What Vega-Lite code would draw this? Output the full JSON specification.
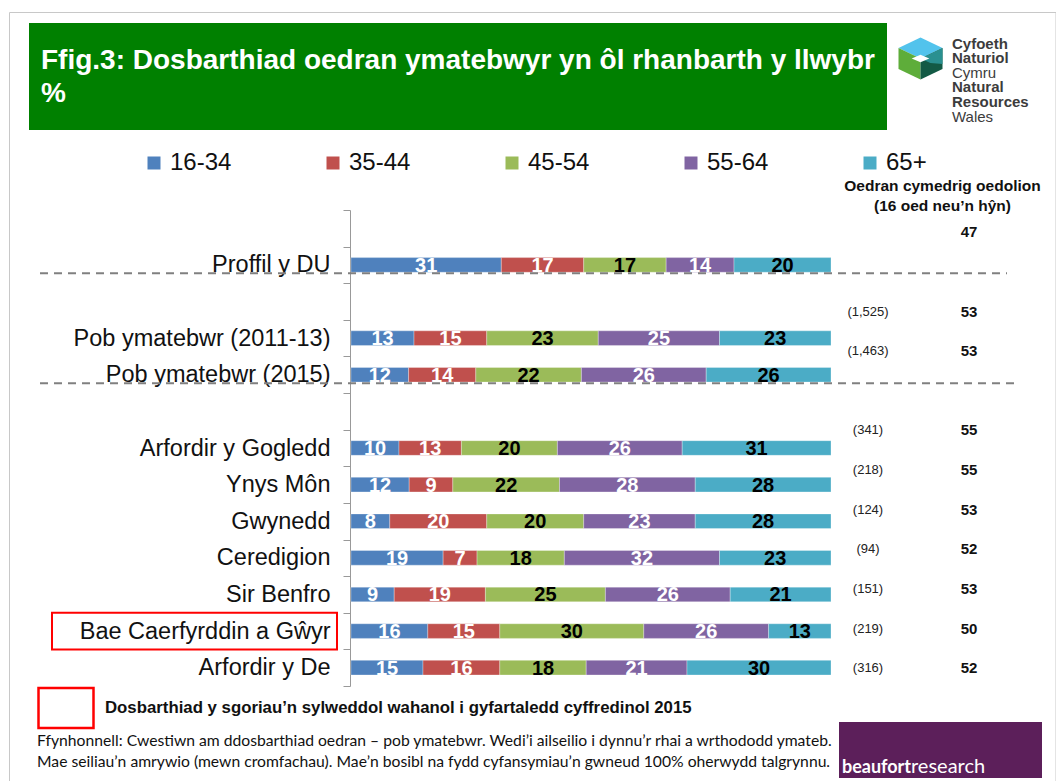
{
  "$schema": "https://vega.github.io/schema/vega-lite/v6.json",
  "width": 1056,
  "height": 781,
  "autosize": {"type": "none"},
  "padding": 0,
  "background": "white",
  "config": {"view": {"stroke": null}, "font": "Liberation Sans"},
  "title": {
    "text": ["Ffig.3: Dosbarthiad oedran ymatebwyr yn ôl rhanbarth y llwybr", "%"],
    "anchor": "start",
    "frame": "group",
    "orient": "top",
    "offset": -142,
    "dx": 41,
    "baseline": "alphabetic",
    "lineHeight": 33,
    "font": "Liberation Sans",
    "fontSize": 28,
    "fontWeight": "bold",
    "color": "#ffffff",
    "zindex": 1
  },
  "resolve": {"scale": {"y": "independent"}},
  "layer": [
    {
      "data": {"values": [{"k": "border"}]},
      "mark": {"type": "rect", "fill": "transparent", "stroke": "#c8c8c8", "strokeWidth": 1},
      "encoding": {
        "x": {"datum": -0.71146, "type": "quantitative"},
        "x2": {"datum": 1.46875},
        "y": {"field": "k", "type": "nominal", "scale": {"type": "band", "domain": ["border"], "range": [12.5, 800], "paddingInner": 0, "paddingOuter": 0}, "axis": null}
      }
    },
    {
      "data": {"values": [{"k": "banner"}]},
      "mark": {"type": "rect", "fill": "#008000"},
      "encoding": {
        "x": {"datum": -0.67083, "type": "quantitative"},
        "x2": {"datum": 1.11667},
        "y": {"field": "k", "type": "nominal", "scale": {"type": "band", "domain": ["banner"], "range": [23, 130], "paddingInner": 0, "paddingOuter": 0}, "axis": null}
      }
    },
    {
      "data": {"values": [{"p": "a", "k": "hex"}, {"p": "b", "k": "hex"}, {"p": "c", "k": "hex"}, {"p": "d", "k": "hex"}, {"p": "e", "k": "hex"}]},
      "mark": {"type": "point", "filled": true, "opacity": 1, "size": 1936, "strokeWidth": 0},
      "encoding": {
        "x": {"datum": 1.18646, "type": "quantitative"},
        "y": {"field": "k", "type": "nominal", "scale": {"type": "band", "domain": ["hex"], "range": [37, 80], "paddingInner": 0, "paddingOuter": 0}, "axis": null},
        "shape": {"field": "p", "type": "nominal", "legend": null, "scale": {"domain": ["a", "b", "c", "d", "e"], "range": [
          "M-1,-0.478L0,-0.955L1,-0.478L0,0Z",
          "M-1,-0.478L0,0L0,0.955L-1,0.478Z",
          "M1,-0.478L1,0.478L0,0.955L0,0Z",
          "M0,0L1,-0.478L1,0.25L0.45,0.2Z",
          "M-0.4,0L0,-0.17L0.4,0L0,0.17Z"
        ]}},
        "fill": {"field": "p", "type": "nominal", "legend": null, "scale": {"domain": ["a", "b", "c", "d", "e"], "range": ["#52c3ec", "#5ead3a", "#135a45", "#2a9090", "#ffffff"]}}
      }
    },
    {
      "data": {"values": [{"t": "Cyfoeth"}, {"t": "Naturiol"}, {"t": "Cymru"}, {"t": "Natural"}, {"t": "Resources"}, {"t": "Wales"}]},
      "layer": [
        {
          "transform": [{"filter": "indexof(['Cymru','Wales'], datum.t) < 0"}],
          "mark": {"type": "text", "align": "left", "baseline": "alphabetic", "fontSize": 15, "fontWeight": "bold", "font": "Liberation Sans", "color": "#3c3c3c"},
          "encoding": {
            "x": {"datum": 1.25208, "type": "quantitative"},
            "y": {"field": "t", "type": "nominal", "scale": {"type": "band", "domain": ["Cyfoeth", "Naturiol", "Cymru", "Natural", "Resources", "Wales"], "range": [41.5, 128.8], "paddingInner": 0, "paddingOuter": 0}, "axis": null},
            "text": {"field": "t"}
          }
        },
        {
          "transform": [{"filter": "indexof(['Cymru','Wales'], datum.t) >= 0"}],
          "mark": {"type": "text", "align": "left", "baseline": "alphabetic", "fontSize": 15, "font": "Liberation Sans", "color": "#3c3c3c"},
          "encoding": {
            "x": {"datum": 1.25208, "type": "quantitative"},
            "y": {"field": "t", "type": "nominal"},
            "text": {"field": "t"}
          }
        }
      ]
    },
    {
      "data": {"values": [{"k": "beaufort", "a": "beaufort", "r": "research"}]},
      "layer": [
        {
          "mark": {"type": "rect", "fill": "#5c1f5a"},
          "encoding": {
            "x": {"datum": 1.01667, "type": "quantitative"},
            "x2": {"datum": 1.43958},
            "y": {"field": "k", "type": "nominal", "scale": {"type": "band", "domain": ["beaufort"], "range": [722, 778], "paddingInner": 0, "paddingOuter": 0}, "axis": null}
          }
        },
        {
          "mark": {"type": "text", "align": "right", "baseline": "alphabetic", "dy": 23, "fontSize": 18, "fontWeight": "bold", "font": "Lato", "color": "#ffffff"},
          "encoding": {
            "x": {"datum": 1.16667, "type": "quantitative"},
            "y": {"field": "k", "type": "nominal"},
            "text": {"field": "a"}
          }
        },
        {
          "mark": {"type": "text", "align": "left", "baseline": "alphabetic", "dy": 23, "fontSize": 20, "font": "Lato", "color": "#ffffff"},
          "encoding": {
            "x": {"datum": 1.16667, "type": "quantitative"},
            "y": {"field": "k", "type": "nominal"},
            "text": {"field": "r"}
          }
        }
      ]
    },
    {
      "data": {"values": [
        {"k": "l1", "t": "Ffynhonnell: Cwestiwn am ddosbarthiad oedran – pob ymatebwr. Wedi’i ailseilio i dynnu’r rhai a wrthododd ymateb."},
        {"k": "l2", "t": "Mae seiliau’n amrywio (mewn cromfachau). Mae’n bosibl na fydd cyfansymiau’n gwneud 100% oherwydd talgrynnu."}
      ]},
      "mark": {"type": "text", "align": "left", "baseline": "middle", "fontSize": 15.7, "font": "Lato", "color": "#111111"},
      "encoding": {
        "x": {"datum": -0.65417, "type": "quantitative"},
        "y": {"field": "k", "type": "nominal", "scale": {"type": "band", "domain": ["l1", "l2"], "range": [730.5, 772.5], "paddingInner": 0, "paddingOuter": 0}, "axis": null},
        "text": {"field": "t"}
      }
    },
    {
      "data": {"values": [
        {"cat": "Proffil y DU", "age": "16-34", "v": 31}, {"cat": "Proffil y DU", "age": "35-44", "v": 17}, {"cat": "Proffil y DU", "age": "45-54", "v": 17}, {"cat": "Proffil y DU", "age": "55-64", "v": 14}, {"cat": "Proffil y DU", "age": "65+", "v": 20},
        {"cat": "Pob ymatebwr (2011-13)", "age": "16-34", "v": 13}, {"cat": "Pob ymatebwr (2011-13)", "age": "35-44", "v": 15}, {"cat": "Pob ymatebwr (2011-13)", "age": "45-54", "v": 23}, {"cat": "Pob ymatebwr (2011-13)", "age": "55-64", "v": 25}, {"cat": "Pob ymatebwr (2011-13)", "age": "65+", "v": 23},
        {"cat": "Pob ymatebwr (2015)", "age": "16-34", "v": 12}, {"cat": "Pob ymatebwr (2015)", "age": "35-44", "v": 14}, {"cat": "Pob ymatebwr (2015)", "age": "45-54", "v": 22}, {"cat": "Pob ymatebwr (2015)", "age": "55-64", "v": 26}, {"cat": "Pob ymatebwr (2015)", "age": "65+", "v": 26},
        {"cat": "Arfordir y Gogledd", "age": "16-34", "v": 10}, {"cat": "Arfordir y Gogledd", "age": "35-44", "v": 13}, {"cat": "Arfordir y Gogledd", "age": "45-54", "v": 20}, {"cat": "Arfordir y Gogledd", "age": "55-64", "v": 26}, {"cat": "Arfordir y Gogledd", "age": "65+", "v": 31},
        {"cat": "Ynys Môn", "age": "16-34", "v": 12}, {"cat": "Ynys Môn", "age": "35-44", "v": 9}, {"cat": "Ynys Môn", "age": "45-54", "v": 22}, {"cat": "Ynys Môn", "age": "55-64", "v": 28}, {"cat": "Ynys Môn", "age": "65+", "v": 28},
        {"cat": "Gwynedd", "age": "16-34", "v": 8}, {"cat": "Gwynedd", "age": "35-44", "v": 20}, {"cat": "Gwynedd", "age": "45-54", "v": 20}, {"cat": "Gwynedd", "age": "55-64", "v": 23}, {"cat": "Gwynedd", "age": "65+", "v": 28},
        {"cat": "Ceredigion", "age": "16-34", "v": 19}, {"cat": "Ceredigion", "age": "35-44", "v": 7}, {"cat": "Ceredigion", "age": "45-54", "v": 18}, {"cat": "Ceredigion", "age": "55-64", "v": 32}, {"cat": "Ceredigion", "age": "65+", "v": 23},
        {"cat": "Sir Benfro", "age": "16-34", "v": 9}, {"cat": "Sir Benfro", "age": "35-44", "v": 19}, {"cat": "Sir Benfro", "age": "45-54", "v": 25}, {"cat": "Sir Benfro", "age": "55-64", "v": 26}, {"cat": "Sir Benfro", "age": "65+", "v": 21},
        {"cat": "Bae Caerfyrddin a Gŵyr", "age": "16-34", "v": 16}, {"cat": "Bae Caerfyrddin a Gŵyr", "age": "35-44", "v": 15}, {"cat": "Bae Caerfyrddin a Gŵyr", "age": "45-54", "v": 30}, {"cat": "Bae Caerfyrddin a Gŵyr", "age": "55-64", "v": 26}, {"cat": "Bae Caerfyrddin a Gŵyr", "age": "65+", "v": 13},
        {"cat": "Arfordir y De", "age": "16-34", "v": 15}, {"cat": "Arfordir y De", "age": "35-44", "v": 16}, {"cat": "Arfordir y De", "age": "45-54", "v": 18}, {"cat": "Arfordir y De", "age": "55-64", "v": 21}, {"cat": "Arfordir y De", "age": "65+", "v": 30}
      ]},
      "transform": [
        {"stack": "v", "groupby": ["cat"], "sort": [{"field": "age"}], "offset": "normalize", "as": ["x0", "x1"]},
        {"calculate": "(datum.x0 + datum.x1) / 2", "as": "xm"}
      ],
      "layer": [
        {
          "mark": {"type": "bar", "height": {"band": 0.4}, "stroke": "#ffffff", "strokeWidth": 0.5, "strokeOpacity": 0.6},
          "encoding": {
            "x": {"field": "x0", "type": "quantitative", "scale": {"domain": [-0.73125, 1.46875], "nice": false, "zero": false}, "axis": null},
            "x2": {"field": "x1"},
            "y": {
              "field": "cat", "type": "nominal",
              "scale": {"type": "band", "domain": [" ", "Proffil y DU", "  ", "Pob ymatebwr (2011-13)", "Pob ymatebwr (2015)", "   ", "Arfordir y Gogledd", "Ynys Môn", "Gwynedd", "Ceredigion", "Sir Benfro", "Bae Caerfyrddin a Gŵyr", "Arfordir y De"], "range": [210, 686], "paddingInner": 0, "paddingOuter": 0},
              "axis": {
                "orient": "left", "offset": -350, "tickBand": "extent", "tickSize": 7, "tickColor": "#999999", "domainColor": "#999999",
                "labelFontSize": 23.5, "labelFont": "Liberation Sans", "labelColor": "#111111", "labelPadding": 13, "labelLimit": 400,
                "title": ["Oedran cymedrig oedolion", "(16 oed neu’n hŷn)"],
                "titleAngle": 0, "titleX": 592, "titleY": 190, "titleAlign": "center", "titleBaseline": "alphabetic",
                "titleFontSize": 15.5, "titleFontWeight": "bold", "titleFont": "Liberation Sans", "titleColor": "#111111", "titleLineHeight": 20
              }
            },
            "color": {
              "field": "age", "type": "nominal",
              "scale": {"domain": ["16-34", "35-44", "45-54", "55-64", "65+"], "range": ["#4F81BD", "#C0504D", "#9BBB59", "#8064A2", "#4BACC6"]},
              "legend": {
                "orient": "none", "legendX": 142, "legendY": 151, "direction": "horizontal", "columns": 5, "title": null,
                "symbolType": "square", "symbolSize": 169, "symbolStrokeWidth": 0, "labelFontSize": 24, "labelFont": "Liberation Sans",
                "labelColor": "#111111", "labelOffset": 4, "columnPadding": 89, "gridAlign": "all", "padding": 0
              }
            }
          }
        },
        {
          "mark": {"type": "text", "fontSize": 20, "fontWeight": "bold", "font": "Liberation Sans", "dy": 7, "baseline": "alphabetic"},
          "encoding": {
            "x": {"field": "xm", "type": "quantitative"},
            "y": {"field": "cat", "type": "nominal"},
            "text": {"field": "v"},
            "color": {"condition": {"test": "datum.age === '45-54' || datum.age === '65+'", "value": "#000000"}, "value": "#ffffff"}
          }
        },
        {
          "data": {"values": [{"cat": "Proffil y DU"}]},
          "transform": [],
          "mark": {"type": "rule", "color": "#808080", "strokeWidth": 2, "strokeDash": [8, 6]},
          "encoding": {
            "x": {"datum": -0.64792, "type": "quantitative"},
            "x2": {"datum": 1.36667},
            "y": {"field": "cat", "type": "nominal", "bandPosition": 0.73}
          }
        },
        {
          "data": {"values": [{"cat": "Pob ymatebwr (2015)"}]},
          "transform": [],
          "mark": {"type": "rule", "color": "#808080", "strokeWidth": 2, "strokeDash": [8, 6]},
          "encoding": {
            "x": {"datum": -0.64792, "type": "quantitative"},
            "x2": {"datum": 1.3875},
            "y": {"field": "cat", "type": "nominal", "bandPosition": 0.73}
          }
        },
        {
          "data": {"values": [{"cat": "Bae Caerfyrddin a Gŵyr", "note": "Dosbarthiad y sgoriau’n sylweddol wahanol i gyfartaledd cyffredinol 2015"}]},
          "transform": [],
          "mark": {"type": "rect", "fill": "transparent", "strokeWidth": 2},
          "encoding": {
            "x": {"datum": -0.62292, "type": "quantitative"},
            "x2": {"datum": -0.02917},
            "y": {"field": "cat", "type": "nominal"},
            "stroke": {
              "field": "note", "type": "nominal", "scale": {"range": ["#ff0000"]},
              "legend": {
                "orient": "none", "legendX": 37, "legendY": 679, "title": null,
                "symbolType": "M-1,-0.727L1,-0.727L1,0.727L-1,0.727Z", "symbolSize": 3025, "symbolStrokeWidth": 2.5, "symbolFillColor": "transparent",
                "labelFontSize": 16.8, "labelFontWeight": "bold", "labelFont": "Liberation Sans", "labelColor": "#111111", "labelOffset": 10, "labelLimit": 900, "padding": 0
              }
            }
          }
        }
      ]
    },
    {
      "data": {"values": [
        {"cat": "Proffil y DU", "m": 47},
        {"cat": "Pob ymatebwr (2011-13)", "n": 1525, "m": 53},
        {"cat": "Pob ymatebwr (2015)", "n": 1463, "m": 53},
        {"cat": "Arfordir y Gogledd", "n": 341, "m": 55},
        {"cat": "Ynys Môn", "n": 218, "m": 55},
        {"cat": "Gwynedd", "n": 124, "m": 53},
        {"cat": "Ceredigion", "n": 94, "m": 52},
        {"cat": "Sir Benfro", "n": 151, "m": 53},
        {"cat": "Bae Caerfyrddin a Gŵyr", "n": 219, "m": 50},
        {"cat": "Arfordir y De", "n": 316, "m": 52}
      ]},
      "layer": [
        {
          "mark": {"type": "text", "align": "center", "baseline": "middle", "fontSize": 15, "fontWeight": "bold", "font": "Liberation Sans", "color": "#111111"},
          "encoding": {
            "x": {"datum": 1.2875, "type": "quantitative"},
            "y": {"field": "cat", "type": "nominal", "scale": {"type": "band", "domain": [" ", "Proffil y DU", "  ", "Pob ymatebwr (2011-13)", "Pob ymatebwr (2015)", "   ", "Arfordir y Gogledd", "Ynys Môn", "Gwynedd", "Ceredigion", "Sir Benfro", "Bae Caerfyrddin a Gŵyr", "Arfordir y De"], "range": [172.9, 688], "paddingInner": 0, "paddingOuter": 0}, "axis": null},
            "text": {"field": "m"}
          }
        },
        {
          "transform": [{"filter": "isValid(datum.n)"}, {"calculate": "'(' + format(datum.n, ',') + ')'", "as": "nl"}],
          "mark": {"type": "text", "align": "center", "baseline": "middle", "fontSize": 13, "font": "Liberation Sans", "color": "#222222"},
          "encoding": {
            "x": {"datum": 1.07708, "type": "quantitative"},
            "y": {"field": "cat", "type": "nominal"},
            "text": {"field": "nl"}
          }
        }
      ]
    }
  ]
}
